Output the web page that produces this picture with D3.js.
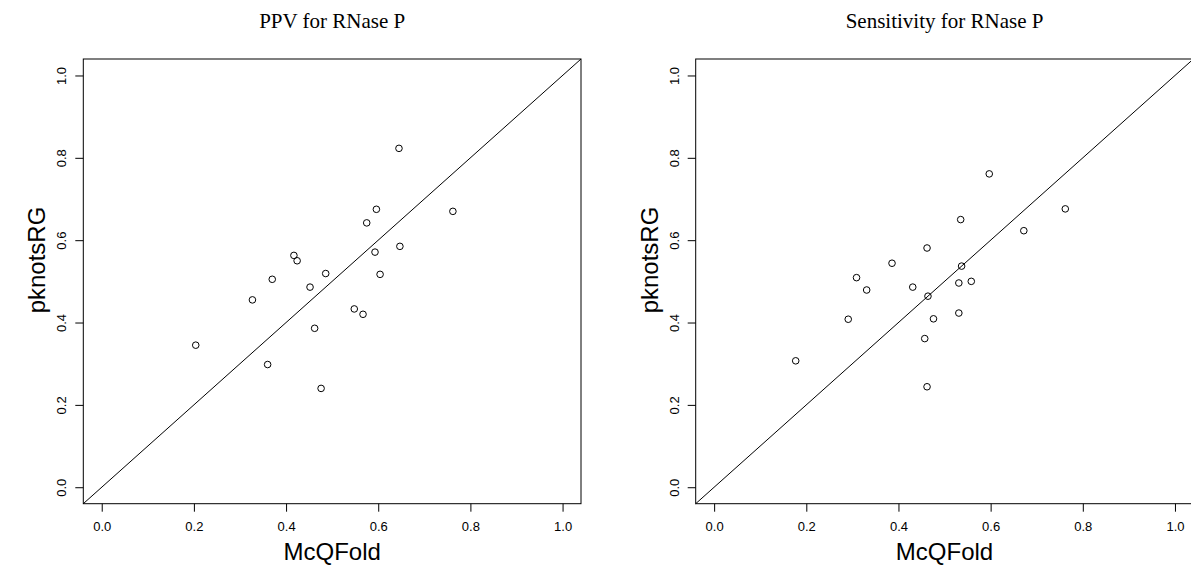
<!DOCTYPE html>
<html>
<head>
<meta charset="utf-8">
<script src="https://cdn.jsdelivr.net/npm/d3@7"></script>
<style>
  body { margin: 0; background: #fff; }
  svg { display: block; }
</style>
</head>
<body>
<div class="chart"></div>
<script>
// values
const titles = ["PPV for RNase P", "Sensitivity for RNase P"];
const xLabel = "McQFold";
const yLabel = "pknotsRG";
const tickValues = [0, 0.2, 0.4, 0.6, 0.8, 1.0];

const ppvX = [0.645, 0.596, 0.575, 0.762, 0.647, 0.593, 0.604, 0.417, 0.424, 0.486,
              0.370, 0.452, 0.327, 0.548, 0.567, 0.462, 0.204, 0.360, 0.476];
const ppvY = [0.823, 0.675, 0.642, 0.670, 0.585, 0.571, 0.517, 0.563, 0.550, 0.519,
              0.505, 0.486, 0.455, 0.433, 0.420, 0.386, 0.345, 0.298, 0.240];

const sensX = [0.597, 0.762, 0.535, 0.672, 0.462, 0.386, 0.537, 0.309, 0.558, 0.531,
               0.331, 0.431, 0.464, 0.531, 0.476, 0.291, 0.457, 0.177, 0.462];
const sensY = [0.761, 0.676, 0.650, 0.623, 0.581, 0.544, 0.537, 0.509, 0.500, 0.496,
               0.479, 0.486, 0.464, 0.423, 0.409, 0.408, 0.361, 0.307, 0.244];

const width = 1191, height = 578;
const dims = {
    plotWidth: 497.7,
    top: 59,
    bottom: 503.7,
    lefts: [83.3, 695.7]
};

const svg = d3.select(".chart").append("svg")
    .attr("width", width)
    .attr("height", height);

const panels = [
    {title: titles[0], xs: ppvX, ys: ppvY, left: dims.lefts[0]},
    {title: titles[1], xs: sensX, ys: sensY, left: dims.lefts[1]}
];

const fmt = d3.format(".1f");
const sans = "'Liberation Sans', Arial, sans-serif";

panels.forEach(p => {
    const x = d3.scaleLinear().domain([-0.04, 1.04]).range([p.left, p.left + dims.plotWidth]);
    const y = d3.scaleLinear().domain([-0.04, 1.04]).range([dims.bottom, dims.top]);
    const g = svg.append("g");
    const cx = p.left + dims.plotWidth / 2;

    // y = x reference line
    g.append("line")
        .attr("x1", x(-0.04)).attr("y1", y(-0.04))
        .attr("x2", x(1.04)).attr("y2", y(1.04))
        .attr("stroke", "#000").attr("stroke-width", 1);

    g.append("g")
        .selectAll("circle")
        .data(p.xs.map((v, i) => [v, p.ys[i]]))
        .join("circle")
        .attr("cx", d => x(d[0]))
        .attr("cy", d => y(d[1]))
        .attr("r", 3.3)
        .attr("fill", "none")
        .attr("stroke", "#000")
        .attr("stroke-width", 1);

    g.append("rect")
        .attr("x", x(-0.04)).attr("y", y(1.04))
        .attr("width", dims.plotWidth).attr("height", dims.bottom - dims.top)
        .attr("fill", "none").attr("stroke", "#000").attr("stroke-width", 1);

    g.append("g")
        .attr("transform", `translate(0,${dims.bottom})`)
        .call(d3.axisBottom(x).tickValues(tickValues).tickFormat(fmt).tickSize(8).tickPadding(10))
        .call(a => a.select(".domain").remove())
        .call(a => a.selectAll("text").style("font", `13px ${sans}`).attr("fill", "#000"));

    g.append("g")
        .attr("transform", `translate(${p.left},0)`)
        .call(d3.axisLeft(y).tickValues(tickValues).tickFormat(fmt).tickSize(8))
        .call(a => a.select(".domain").remove())
        .call(a => a.selectAll("text")
            .attr("x", null).attr("dy", null)
            .attr("text-anchor", "middle")
            .attr("transform", "translate(-17,0) rotate(-90)")
            .style("font", `13px ${sans}`)
            .attr("fill", "#000"));

    svg.append("text")
        .attr("x", cx).attr("y", 28)
        .attr("text-anchor", "middle")
        .style("font", "21px 'Liberation Serif', 'Times New Roman', serif")
        .text(p.title);

    svg.append("text")
        .attr("x", cx).attr("y", 560)
        .attr("text-anchor", "middle")
        .style("font", `24px ${sans}`)
        .text(xLabel);

    svg.append("text")
        .attr("transform", `translate(${p.left - 38},260) rotate(-90)`)
        .attr("text-anchor", "middle")
        .style("font", `24px ${sans}`)
        .text(yLabel);
});
</script>
</body>
</html>
